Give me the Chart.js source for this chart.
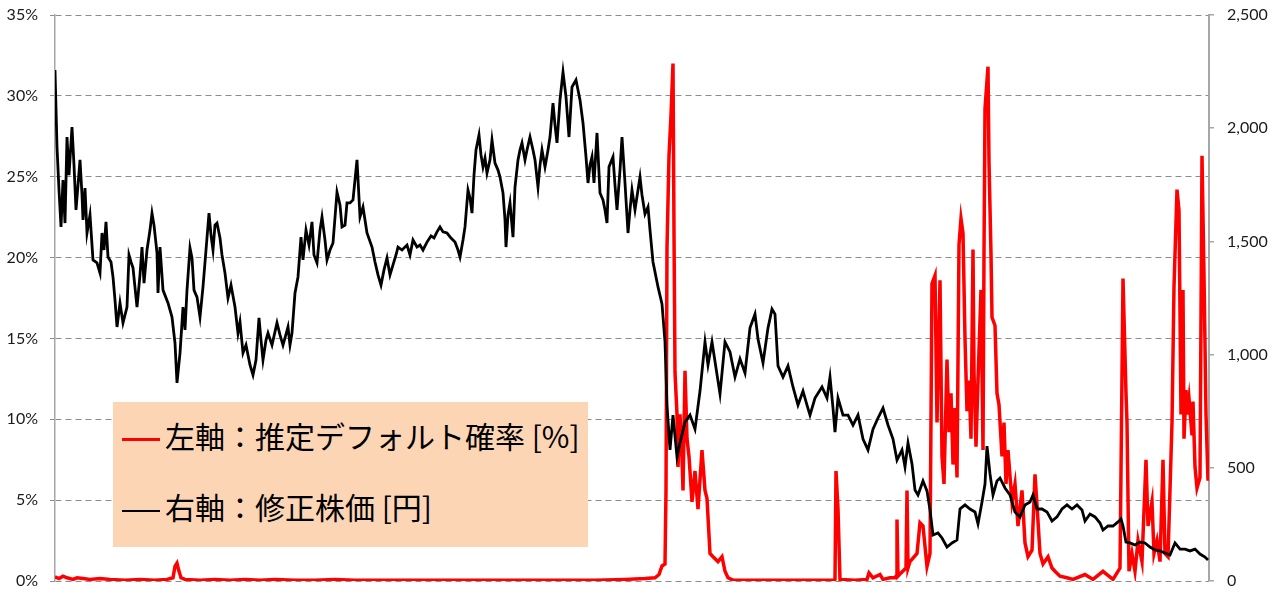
<!DOCTYPE html>
<html lang="ja">
<head>
<meta charset="utf-8">
<title>推定デフォルト確率と修正株価</title>
<script src="https://cdn.jsdelivr.net/npm/chart.js@4.4.1/dist/chart.umd.min.js"></script>
<style>
  html, body { margin: 0; padding: 0; background: #fff; }
  #wrap { position: relative; width: 1282px; height: 594px; }
  #legend {
    position: absolute; left: 113px; top: 402px; width: 475px; height: 145px;
    background: #fcd5b5; color: #000;
    font-family: "Noto Sans CJK JP", sans-serif; font-size: 30px;
  }
  .row { position: absolute; left: 9px; white-space: nowrap; line-height: 1; }
  .mark { display: inline-block; width: 38px; vertical-align: middle; margin-right: 5px; }
</style>
</head>
<body>
<div id="wrap">
  <canvas id="chart" width="1282" height="594"></canvas>
  <div id="legend">
    <div class="row" style="top:18px"><span class="mark" style="height:3px;background:#ff0000"></span>左軸：推定デフォルト確率 [%]</div>
    <div class="row" style="top:89px"><span class="mark" style="height:2px;background:#000"></span>右軸：修正株価 [円]</div>
  </div>
</div>
<script>
// time index (sampling steps along the x axis)
const priceT = [0,2,4,6,8,10,12,14,17,19,21,23,25,27,28,30,32,35,38,42,45,47,49,51,53,56,58,60,62,65,
  68,72,74,76,78,82,85,87,89,92,95,97,99,102,103,105,108,113,117,120,122,125,128,130,132,135,137,139,142,145,
  148,151,154,156,158,160,162,165,167,170,173,176,180,183,185,188,191,195,198,201,204,206,208,211,213,217,222,225,228,233,
  235,237,240,243,246,248,251,254,257,259,262,265,267,270,272,275,278,282,285,287,290,292,295,298,302,305,308,312,317,320,
  323,326,329,332,335,338,341,343,347,352,355,358,362,365,368,372,376,379,382,385,388,392,396,400,403,405,408,410,413,415,
  417,419,421,424,426,428,430,432,435,437,440,443,445,448,450,451,453,455,458,460,463,465,467,470,472,475,478,480,483,485,
  487,490,493,495,498,500,502,505,508,511,514,517,521,523,525,528,531,533,535,537,539,542,545,548,550,552,554,558,560,562,
  565,567,570,573,575,577,580,583,585,587,590,593,595,598,603,607,610,612,615,618,622,625,630,635,640,645,650,653,657,665,
  670,675,680,685,690,695,700,703,708,713,717,720,723,728,733,738,743,748,752,755,760,767,772,775,778,780,783,788,793,798,
  803,808,813,818,823,828,833,838,842,847,850,853,857,860,863,868,872,875,878,883,887,892,897,902,905,910,915,920,923,927,
  930,932,935,938,942,945,950,955,960,965,970,975,978,982,987,992,997,1002,1007,1012,1017,1022,1027,1030,1035,1040,1045,1048,1053,1058,
  1063,1066,1068,1071,1075,1080,1085,1090,1095,1100,1105,1110,1115,1120,1125,1130,1135,1140,1145,1150,1153];

// 修正株価 [円] (right axis)
const priceYen = [2257,1917,1727,1564,1771,1581,1961,1793,2005,1837,1639,1749,1860,1705,1595,1736,1537,1617,1418,1405,
  1360,1537,1462,1586,1431,1409,1343,1241,1122,1228,1140,1210,1440,1409,1383,1210,1352,1475,1316,1462,
  1550,1625,1572,1449,1272,1475,1285,1228,1166,1051,875,1007,1210,1109,1285,1471,1427,1285,1254,1166,
  1299,1462,1625,1528,1462,1572,1581,1515,1440,1360,1250,1307,1210,1095,1144,1007,1042,954,910,976,
  1162,1064,976,1064,1095,1042,1140,1087,1042,1122,1042,1095,1272,1343,1519,1418,1550,1484,1586,1440,
  1405,1550,1608,1506,1418,1462,1493,1718,1661,1564,1572,1670,1670,1683,1860,1608,1652,1537,1475,1409,
  1352,1307,1374,1427,1352,1396,1440,1475,1462,1484,1440,1506,1475,1484,1462,1497,1524,1515,1542,1564,
  1542,1537,1515,1497,1462,1431,1506,1564,1727,1692,1625,1793,1904,1970,1882,1829,1868,1802,1860,1948,
  1846,1815,1784,1714,1595,1475,1617,1670,1519,1740,1860,1904,1935,1860,1904,1961,1904,1860,1740,1837,
  1904,1829,1904,1961,2111,2014,1935,2125,2248,2138,1961,2182,2213,2169,2125,2023,1873,1758,1837,1873,
  1758,1979,1714,1683,1639,1581,1829,1873,1749,1639,1815,1961,1758,1537,1639,1727,1639,1727,1784,1705,
  1621,1652,1550,1409,1299,1224,1056,777,579,733,548,610,702,733,671,839,1056,954,1056,826,
  1056,1012,901,981,919,1118,1179,1069,963,1118,1201,1179,950,901,950,857,777,839,777,733,
  808,857,808,901,764,658,808,733,733,689,733,627,579,671,720,764,689,627,534,579,
  504,610,517,402,380,442,398,314,203,212,190,150,168,181,318,336,318,305,252,349,
  428,596,473,380,442,455,411,380,305,283,336,349,380,318,318,305,265,283,318,336,
  318,336,314,265,296,283,256,225,243,243,261,274,243,172,168,159,172,168,150,137,
  133,124,115,168,141,141,133,141,119,106,93];

const pdT = [0,4,8,12,18,22,28,35,45,55,70,85,100,112,118,120,122,124,126,130,
  145,160,175,190,205,220,240,260,280,300,330,360,390,420,450,480,510,540,570,590,
  600,604,607,610,611,612,614,616,618,619,620,622,623,625,627,628,630,632,634,637,
  640,643,647,650,652,655,658,663,667,670,673,678,700,730,760,779,780,781,783,785,
  800,812,814,818,825,828,835,840,841,842,843,846,851,852,853,855,862,865,868,872,
  875,877,880,882,885,887,889,892,894,896,898,900,902,904,906,908,910,912,914,916,
  918,919,921,923,926,928,929,930,933,934,936,937,940,942,944,947,949,951,953,957,
  960,963,967,970,973,977,980,982,985,988,993,997,1000,1005,1012,1018,1030,1038,1048,1052,
  1058,1065,1068,1071,1072,1074,1077,1080,1083,1087,1091,1093,1097,1099,1102,1105,1108,1110,1113,1117,
  1119,1122,1124,1126,1128,1129,1131,1132,1134,1137,1138,1140,1142,1145,1147,1149,1151,1153];

// 推定デフォルト確率 [%] (left axis)
const pdPct = [0.25,0.15,0.3,0.2,0.1,0.2,0.15,0.1,0.15,0.1,0.05,0.1,0.05,0.1,0.2,0.9,1.1,0.6,0.2,0.1,
  0.05,0.1,0.05,0.1,0.05,0.1,0.05,0.05,0.1,0.05,0.05,0.05,0.05,0.05,0.05,0.05,0.05,0.05,0.1,0.15,
  0.2,0.4,0.93,1.05,5.6,20.6,26.3,28.8,32.0,21.5,12.9,10.3,7.05,10.3,7.7,5.6,13.0,8.8,7.7,4.9,
  6.8,4.45,8.1,5.6,5.1,1.7,1.5,1.2,1.5,0.6,0.2,0.05,0.05,0.05,0.05,0.05,0.1,6.8,4.45,0.1,
  0.05,0.1,0.5,0.2,0.4,0.1,0.2,0.2,0.3,3.8,0.3,0.5,0.8,5.6,0.8,1.2,1.7,3.6,3.4,0.9,
  1.7,18.4,18.9,9.8,18.6,7.7,6.0,13.7,9.2,11.6,7.2,10.7,6.4,20.8,22.4,21.5,15.0,10.5,12.4,8.8,
  20.5,12.9,8.3,12.4,18.0,8.1,20.2,29.2,31.8,25.9,20.2,16.3,15.8,11.6,10.9,7.7,9.8,6.0,8.1,4.9,
  6.0,3.4,5.6,2.35,1.5,1.9,6.6,4.7,1.7,1.05,1.5,0.8,0.6,0.3,0.2,0.1,0.4,0.1,0.6,0.4,
  0.1,0.8,18.7,11.6,9.8,0.6,1.7,0.6,2.5,1.2,7.5,3.4,4.9,1.7,2.5,1.2,7.5,1.7,1.5,9.8,
  18.2,24.2,22.9,10.3,18.0,8.8,11.8,10.3,11.3,9.0,11.1,7.05,5.75,6.4,26.3,18.9,10.3,6.2];

const pdTicks = [0, 5, 10, 15, 20, 25, 30, 35];
const priceTicks = [0, 500, 1000, 1500, 2000, 2500];

if (priceT.length !== priceYen.length || pdT.length !== pdPct.length) {
  console.warn("length mismatch", priceT.length, priceYen.length, pdT.length, pdPct.length);
}

const toPoints = (ts, vs) => ts.map((t, i) => ({ x: t, y: vs[i] }));

const tickFont = { family: "Lato", size: 16 };
const axisGray = "#a6a6a6";

// fixed axis widths, no extra room for the end labels
const fitAxis = (w) => (s) => {
  s.width = w;
  s.paddingTop = 0;
  s.paddingBottom = 0;
};

new Chart(document.getElementById("chart"), {
  type: "line",
  data: {
    datasets: [
      {
        label: "右軸：修正株価 [円]",
        data: toPoints(priceT, priceYen),
        yAxisID: "yPrice",
        borderColor: "#000000",
        borderWidth: 2.8,
        pointRadius: 0,
        tension: 0,
      },
      {
        label: "左軸：推定デフォルト確率 [%]",
        data: toPoints(pdT, pdPct),
        yAxisID: "yPd",
        borderColor: "#ff0000",
        borderWidth: 3.5,
        pointRadius: 0,
        tension: 0,
      },
    ],
  },
  options: {
    responsive: false,
    animation: false,
    devicePixelRatio: 1,
    layout: { padding: { top: 15, bottom: 13, left: 0, right: 0 } },
    plugins: { legend: { display: false }, tooltip: { enabled: false } },
    scales: {
      x: { type: "linear", min: 0, max: 1154, display: false },
      yPd: {
        position: "left",
        min: 0,
        max: 35,
        afterBuildTicks: (s) => { s.ticks = pdTicks.map((v) => ({ value: v })); },
        afterFit: fitAxis(55),
        ticks: { callback: (v) => v + "%", padding: 12, color: "#1a1a1a", font: tickFont },
        grid: { color: "#8c8c8c", lineWidth: 1, tickLength: 5, tickColor: "#8c8c8c" },
        border: { display: true, color: axisGray, width: 1.5, dash: [6, 4] },
      },
      yPrice: {
        position: "right",
        min: 0,
        max: 2500,
        afterBuildTicks: (s) => { s.ticks = priceTicks.map((v) => ({ value: v })); },
        afterFit: fitAxis(73),
        ticks: { callback: (v) => v.toLocaleString("en-US"), padding: 13, color: "#1a1a1a", font: tickFont },
        grid: { drawOnChartArea: false, tickLength: 5, tickColor: axisGray, lineWidth: 1.5 },
        border: { display: true, color: axisGray, width: 2 },
      },
    },
  },
});
</script>
</body>
</html>
